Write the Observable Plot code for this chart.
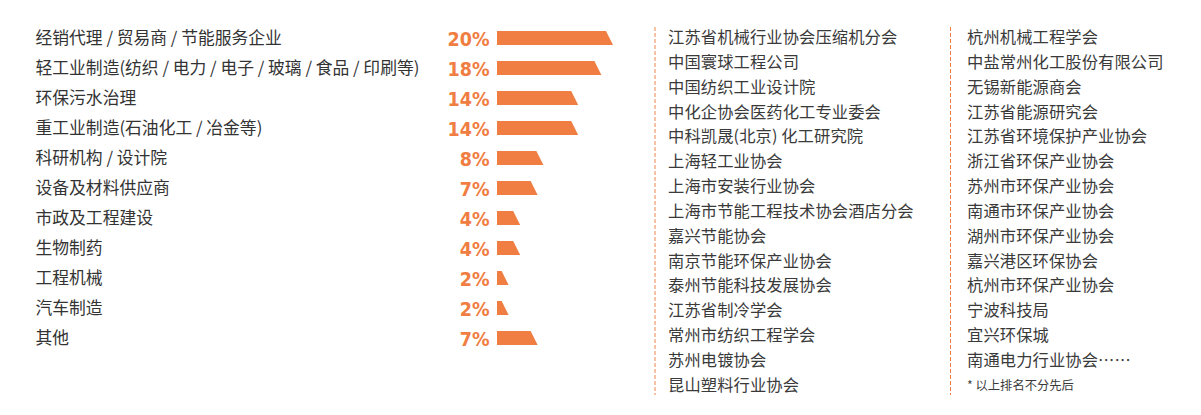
<!DOCTYPE html>
<html>
<head>
<meta charset="utf-8">
<script src="https://cdn.jsdelivr.net/npm/d3@7"></script>
<script src="https://cdn.jsdelivr.net/npm/@observablehq/plot@0.6"></script>
<style>
  html, body { margin: 0; padding: 0; background: #fff; }
  #wrap { position: relative; width: 1201px; height: 415px; overflow: hidden; font-family: "Noto Sans CJK SC", "Noto Sans", sans-serif; }
  #chart { position: absolute; left: 0; top: 0; }
  #chart text.pct { letter-spacing: -1px; }
  .col { position: absolute; top: 24px; font-size: 16.3px; line-height: 24.85px; color: #3a3a3a; white-space: nowrap; letter-spacing: 0.1px; }
  .note { font-size: 12.3px; line-height: 27px; color: #3a3a3a; letter-spacing: 0; }
  .dash { position: absolute; top: 27px; height: 368px;
          background: repeating-linear-gradient(to bottom, var(--c) 0 4px, transparent 4px 6px); }
</style>
</head>
<body>
<div id="wrap">
  <div id="chart"></div>
  <div class="dash" style="left:654px;width:2px;--c:#f8c3a5;"></div>
  <div class="col" id="col1" style="left:668px;"></div>
  <div class="dash" style="left:950px;width:1px;--c:#f07d41;"></div>
  <div class="col" id="col2" style="left:967px;"></div>
</div>
<script>
const categories = [
  "经销代理 / 贸易商 / 节能服务企业",
  "轻工业制造(纺织 / 电力 / 电子 / 玻璃 / 食品 / 印刷等)",
  "环保污水治理",
  "重工业制造(石油化工 / 冶金等)",
  "科研机构 / 设计院",
  "设备及材料供应商",
  "市政及工程建设",
  "生物制药",
  "工程机械",
  "汽车制造",
  "其他"
];
const shares = [20, 18, 14, 14, 8, 7, 4, 4, 2, 2, 7];

const orgsColumn1 = [
  "江苏省机械行业协会压缩机分会",
  "中国寰球工程公司",
  "中国纺织工业设计院",
  "中化企协会医药化工专业委会",
  "中科凯晟(北京) 化工研究院",
  "上海轻工业协会",
  "上海市安装行业协会",
  "上海市节能工程技术协会酒店分会",
  "嘉兴节能协会",
  "南京节能环保产业协会",
  "泰州节能科技发展协会",
  "江苏省制冷学会",
  "常州市纺织工程学会",
  "苏州电镀协会",
  "昆山塑料行业协会"
];
const orgsColumn2 = [
  "杭州机械工程学会",
  "中盐常州化工股份有限公司",
  "无锡新能源商会",
  "江苏省能源研究会",
  "江苏省环境保护产业协会",
  "浙江省环保产业协会",
  "苏州市环保产业协会",
  "南通市环保产业协会",
  "湖州市环保产业协会",
  "嘉兴港区环保协会",
  "杭州市环保产业协会",
  "宁波科技局",
  "宜兴环保城",
  "南通电力行业协会……"
];
const footnote = "* 以上排名不分先后";

const ORANGE = "#f07d41";
const rows = categories.map((c, i) => ({category: c, index: i, share: shares[i]}));

// bar polygons: top-right corner shorter than bottom-right corner (slanted right side)
const xDomain = [0, 20], xRange = [497, 613];
const pxPerPct = (xRange[1] - xRange[0]) / (xDomain[1] - xDomain[0]);
const slant = 7 / pxPerPct;
const half = 0.235;
const barPts = rows.flatMap(d => [
  {category: d.category, y: d.index - half, x2: Math.max(0.15, d.share - slant)},
  {category: d.category, y: d.index + half, x2: d.share}
]);

const chart = Plot.plot({
  width: 640,
  height: 415,
  marginLeft: 0, marginRight: 0, marginTop: 0, marginBottom: 0,
  x: {domain: xDomain, range: xRange, axis: null},
  y: {type: "linear", domain: [-0.5, categories.length - 0.5], range: [23, 353], axis: null},
  marks: [
    Plot.areaX(barPts, {y: "y", x1: 0, x2: "x2", z: "category", fill: ORANGE, curve: "linear"}),
    Plot.text(rows, {
      y: "index", text: "category", frameAnchor: "left", dx: 35, textAnchor: "start",
      fill: "#333", fontSize: 16.8, fontFamily: "Noto Sans CJK SC"
    }),
    Plot.text(rows, {
      x: 0, y: "index", text: d => d.share + "%", textAnchor: "end", dx: -8, dy: 1,
      fill: ORANGE, fontSize: 19.5, fontWeight: 700, className: "pct",
      fontFamily: "DejaVu Sans Condensed, sans-serif"
    })
  ]
});
document.getElementById("chart").append(chart);

const c1 = document.getElementById("col1");
orgsColumn1.forEach(t => { const d = document.createElement("div"); d.textContent = t; c1.append(d); });
const c2 = document.getElementById("col2");
orgsColumn2.forEach(t => { const d = document.createElement("div"); d.textContent = t; c2.append(d); });
const n = document.createElement("div"); n.className = "note"; n.textContent = footnote; c2.append(n);
</script>
</body>
</html>
